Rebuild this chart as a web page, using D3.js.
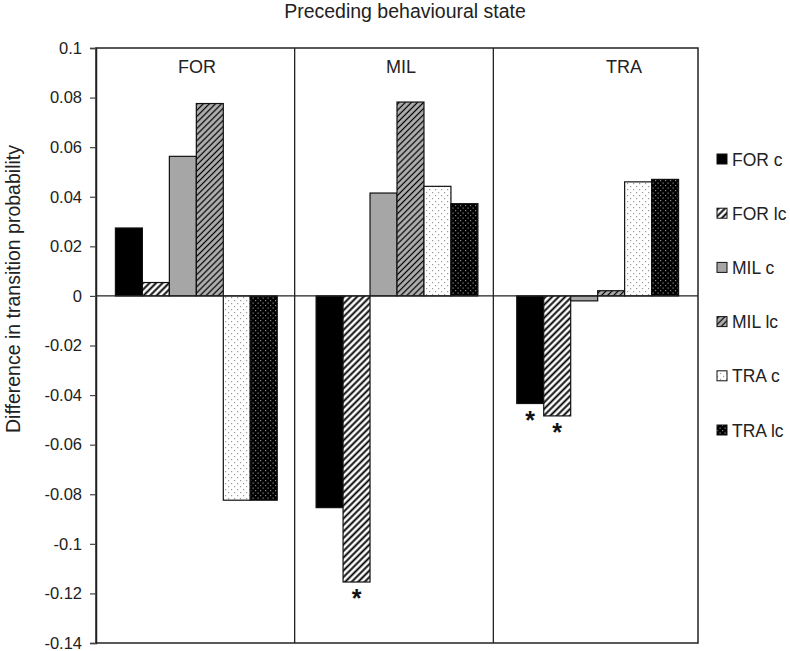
<!DOCTYPE html>
<html>
<head>
<meta charset="utf-8">
<script src="https://cdn.jsdelivr.net/npm/d3@7"></script>
<style>
  html, body { margin: 0; padding: 0; background: #fff; }
  svg { display: block; font-family: "Liberation Sans", Arial, sans-serif; }
</style>
</head>
<body>
<svg id="chart" width="790" height="651"></svg>
<script>
// ---- data ----
const panels = ["FOR", "MIL", "TRA"];
const series = ["FOR c", "FOR lc", "MIL c", "MIL lc", "TRA c", "TRA lc"];
const valuesFOR = [0.0274, 0.0054, 0.0563, 0.0776, -0.0824, -0.0824];
const valuesMIL = [-0.0854, -0.1154, 0.0415, 0.0782, 0.0442, 0.0372];
const valuesTRA = [-0.0434, -0.0484, -0.0020, 0.0021, 0.0460, 0.0470];
const yTicks = [0.1, 0.08, 0.06, 0.04, 0.02, 0, -0.02, -0.04, -0.06, -0.08, -0.1, -0.12, -0.14];
const significantFOR = [];
const significantMIL = ["FOR lc"];
const significantTRA = ["FOR c", "FOR lc"];
const title = "Preceding behavioural state";
const yLabel = "Difference in transition probability";

const panelValues = [valuesFOR, valuesMIL, valuesTRA];
const panelSig = [significantFOR, significantMIL, significantTRA];
const rows = [];
panels.forEach((p, i) => series.forEach((s, j) => rows.push({
  panel: p, series: s, value: panelValues[i][j], sig: panelSig[i].includes(s)
})));

// ---- layout ----
const L = 96, R = 698, T = 48, B = 643;
const svg = d3.select("#chart");

const x0 = d3.scaleBand().domain(panels).range([L, R]).paddingInner(0).paddingOuter(0);
const x1 = d3.scaleBand().domain(series).range([0, x0.bandwidth()]).paddingInner(0).paddingOuter(0.72);
const y = d3.scaleLinear().domain([-0.14, 0.1]).range([B, T]);

// ---- patterns ----
const defs = svg.append("defs");
function stripes(id, bg, period, sw) {
  const p = defs.append("pattern").attr("id", id).attr("patternUnits", "userSpaceOnUse")
    .attr("width", period).attr("height", period).attr("patternTransform", "rotate(45)");
  p.append("rect").attr("width", period).attr("height", period).attr("fill", bg);
  p.append("line").attr("x1", period / 2).attr("x2", period / 2).attr("y1", 0).attr("y2", period)
    .attr("stroke", "#000").attr("stroke-width", sw);
}
function dots(id, bg, dot, period) {
  const p = defs.append("pattern").attr("id", id).attr("patternUnits", "userSpaceOnUse")
    .attr("width", period).attr("height", period);
  p.append("rect").attr("width", period).attr("height", period).attr("fill", bg);
  p.append("rect").attr("x", 0).attr("y", 0).attr("width", 1.2).attr("height", 1.2).attr("fill", dot);
  p.append("rect").attr("x", period / 2).attr("y", period / 2).attr("width", 1.2).attr("height", 1.2).attr("fill", dot);
}
stripes("forlc", "#fff", 4.6, 1.9);
stripes("millc", "#b0b0b0", 4.3, 1.25);
dots("trac", "#fff", "#9a9a9a", 6);
dots("tralc", "#000", "#8c8c8c", 5);

const fills = {
  "FOR c": "#000",
  "FOR lc": "url(#forlc)",
  "MIL c": "#a6a6a6",
  "MIL lc": "url(#millc)",
  "TRA c": "url(#trac)",
  "TRA lc": "url(#tralc)"
};

// ---- frame ----
svg.append("rect").attr("x", L).attr("y", T).attr("width", R - L).attr("height", B - T)
  .attr("fill", "none").attr("stroke", "#222").attr("stroke-width", 1.5);

// panel separators (drawn slightly left of the band boundaries, as in the original)
const sepOffset = [2, 4];
svg.append("g").selectAll("line").data(panels.slice(1)).join("line")
  .attr("x1", (d, i) => x0(d) - sepOffset[i]).attr("x2", (d, i) => x0(d) - sepOffset[i])
  .attr("y1", T).attr("y2", B)
  .attr("stroke", "#222").attr("stroke-width", 1.3);

// ---- y axis ----
const yAxis = d3.axisLeft(y).tickValues(yTicks).tickSize(6).tickPadding(8)
  .tickFormat(d => d === 0 ? "0" : String(+d.toFixed(2)));
const ya = svg.append("g").attr("transform", `translate(${L},0)`).call(yAxis);
ya.select(".domain").attr("stroke", "#222").attr("stroke-width", 1.5);
ya.selectAll(".tick line").attr("stroke", "#444").attr("stroke-width", 1.2);
ya.selectAll(".tick text").attr("font-size", 16.5).attr("fill", "#222")
  .attr("font-family", "'Liberation Sans', Arial, sans-serif");

// ---- bars ----
svg.append("g").selectAll("rect").data(rows).join("rect")
  .attr("x", d => x0(d.panel) + x1(d.series))
  .attr("width", x1.bandwidth())
  .attr("y", d => y(Math.max(0, d.value)))
  .attr("height", d => Math.abs(y(d.value) - y(0)))
  .attr("fill", d => fills[d.series])
  .attr("stroke", "#111").attr("stroke-width", 1.2);

// zero line
svg.append("line").attr("x1", L).attr("x2", R).attr("y1", y(0)).attr("y2", y(0))
  .attr("stroke", "#222").attr("stroke-width", 1.3);

// significance asterisks
svg.append("g").selectAll("text").data(rows.filter(d => d.sig)).join("text")
  .attr("x", d => x0(d.panel) + x1(d.series) + x1.bandwidth() / 2)
  .attr("y", d => y(d.value) + 25)
  .attr("text-anchor", "middle")
  .attr("font-size", 25).attr("font-weight", "bold").attr("fill", "#111")
  .text("*");

// panel labels
const panelLabelX = { "FOR": 197, "MIL": 401, "TRA": 624 };
svg.append("g").selectAll("text").data(panels).join("text")
  .attr("x", d => panelLabelX[d])
  .attr("y", 73)
  .attr("text-anchor", "middle")
  .attr("font-size", 18).attr("fill", "#222")
  .text(d => d);

// title
svg.append("text").attr("x", 405).attr("y", 18).attr("text-anchor", "middle")
  .attr("font-size", 19.5).attr("fill", "#222").text(title);

// y label
svg.append("text").attr("transform", `translate(19.5,289) rotate(-90)`)
  .attr("text-anchor", "middle").attr("font-size", 19.5).attr("fill", "#222").text(yLabel);

// ---- legend ----
const legend = svg.append("g").selectAll("g").data(series).join("g")
  .attr("transform", (d, i) => `translate(717,${159 + i * 54.2})`);
legend.append("rect").attr("x", 0).attr("y", -5).attr("width", 10).attr("height", 10)
  .attr("fill", d => fills[d]).attr("stroke", "#111").attr("stroke-width", 1);
legend.append("text").attr("x", 15).attr("y", 6.5).attr("font-size", 17.5).attr("fill", "#222")
  .text(d => d);
</script>
</body>
</html>
